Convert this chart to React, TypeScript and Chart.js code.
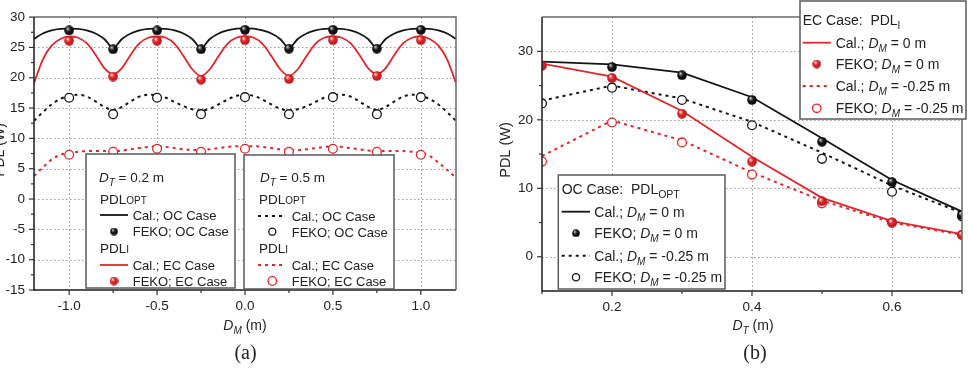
import React, { useEffect, useRef } from 'react';
import { Chart, registerables } from 'chart.js';

Chart.register(...registerables);

const SANS = '"Liberation Sans", Arial, Helvetica, sans-serif';
const SERIF = '"Liberation Serif", "Times New Roman", serif';
const RED = '#e3262b';
const BLACK = '#141414';
const TEXT = '#222222';

// ---------- Panel (a): PDL versus receiver offset D_M ----------
const dmSamples = [
  -1.2, -1.15, -1.1, -1.05, -1.0, -0.95, -0.9, -0.85, -0.8, -0.75,
  -0.7, -0.65, -0.6, -0.55, -0.5, -0.45, -0.4, -0.35, -0.3, -0.25,
  -0.2, -0.15, -0.1, -0.05, 0, 0.05, 0.1, 0.15, 0.2, 0.25,
  0.3, 0.35, 0.4, 0.45, 0.5, 0.55, 0.6, 0.65, 0.7, 0.75,
  0.8, 0.85, 0.9, 0.95, 1.0, 1.05, 1.1, 1.15, 1.2,
];
// Cal., OC case, D_T = 0.2 m
const calOcDt02 = [
  26.4, 27.3, 27.8, 28.05, 28.1, 28.05, 27.8, 27.3, 26.4, 24.9,
  26.4, 27.3, 27.8, 28.05, 28.1, 28.05, 27.8, 27.3, 26.4, 24.9,
  26.4, 27.3, 27.8, 28.1, 28.15, 28.1, 27.8, 27.3, 26.4, 24.9,
  26.4, 27.3, 27.8, 28.05, 28.1, 28.05, 27.8, 27.3, 26.4, 24.9,
  26.4, 27.3, 27.8, 28.05, 28.1, 28.05, 27.8, 27.3, 26.4,
];
// Cal., EC case, D_T = 0.2 m
const calEcDt02 = [
  19.1, 23.0, 25.3, 26.4, 26.8, 26.6, 25.7, 23.8, 21.6, 20.6,
  21.6, 23.8, 25.7, 26.6, 26.8, 26.6, 25.6, 23.6, 21.4, 20.3,
  21.4, 23.6, 25.6, 26.6, 26.8, 26.6, 25.6, 23.6, 21.4, 20.3,
  21.4, 23.6, 25.6, 26.6, 26.8, 26.6, 25.7, 23.8, 21.6, 20.6,
  21.6, 23.8, 25.7, 26.6, 26.8, 26.4, 25.3, 23.0, 19.1,
];
// Cal., OC case, D_T = 0.5 m
const calOcDt05 = [
  12.9, 14.3, 15.6, 16.5, 17.0, 17.2, 16.9, 16.1, 15.2, 14.7,
  15.2, 16.1, 16.9, 17.2, 17.1, 16.7, 16.0, 15.3, 14.8, 14.6,
  14.9, 15.6, 16.4, 17.0, 17.2, 17.0, 16.4, 15.6, 14.9, 14.6,
  14.8, 15.3, 16.0, 16.7, 17.1, 17.2, 16.9, 16.1, 15.2, 14.7,
  15.2, 16.1, 16.9, 17.2, 17.0, 16.5, 15.6, 14.3, 12.9,
];
// Cal., EC case, D_T = 0.5 m
const calEcDt05 = [
  3.8, 5.2, 6.5, 7.3, 7.6, 7.8, 7.9, 7.9, 7.9, 7.9,
  8.0, 8.2, 8.4, 8.6, 8.7, 8.6, 8.4, 8.2, 8.1, 8.1,
  8.2, 8.4, 8.6, 8.7, 8.7, 8.7, 8.6, 8.4, 8.2, 8.1,
  8.1, 8.2, 8.4, 8.6, 8.7, 8.6, 8.4, 8.2, 8.0, 7.9,
  7.9, 7.9, 7.9, 7.8, 7.6, 7.1, 6.0, 4.8, 3.5,
];
const dmFeko = [-1, -0.75, -0.5, -0.25, 0, 0.25, 0.5, 0.75, 1];
const fekoOcDt02 = [27.8, 24.7, 27.8, 24.7, 27.9, 24.8, 27.9, 24.8, 27.9];
const fekoEcDt02 = [26.1, 20.2, 26.1, 19.7, 26.2, 19.8, 26.2, 20.3, 26.2];
const fekoOcDt05 = [16.7, 14.0, 16.7, 14.0, 16.8, 14.0, 16.8, 14.0, 16.8];
const fekoEcDt05 = [7.3, 7.8, 8.3, 7.8, 8.3, 7.8, 8.3, 7.8, 7.3];

const dmTicks = [-1, -0.5, 0, 0.5, 1];
const dmMinorTicks = [-0.75, -0.25, 0.25, 0.75];
const pdlTicksA = [-15, -10, -5, 0, 5, 10, 15, 20, 25, 30];
const pdlMinorA = [-12.5, -7.5, -2.5, 2.5, 7.5, 12.5, 17.5, 22.5, 27.5];

// ---------- Panel (b): PDL versus transmitter spacing D_T ----------
const dtSamples = [0.1, 0.2, 0.3, 0.4, 0.5, 0.6, 0.7];
const calOcDm0 = [28.5, 28.1, 26.9, 23.3, 17.3, 11.2, 6.6];
const calOcDm025 = [22.8, 25.0, 23.1, 19.7, 15.2, 10.4, 6.4];
const calEcDm0 = [28.2, 26.3, 21.3, 14.6, 8.6, 5.2, 3.3];
const calEcDm025 = [14.7, 19.9, 17.0, 12.3, 8.2, 5.0, 3.2];
const dtFekoOc0 = [0.2, 0.3, 0.4, 0.5, 0.6, 0.7];
const fekoOcDm0 = [27.7, 26.5, 22.9, 16.8, 10.9, 6.1];
const fekoOcDm025 = [22.4, 24.7, 22.9, 19.2, 14.3, 9.5, 5.9];
const fekoEcDm0 = [27.9, 26.1, 20.9, 13.9, 8.1, 5.0, 3.2];
const fekoEcDm025 = [13.9, 19.6, 16.7, 12.0, 7.8, 5.0, 3.2];

const dtTicks = [0.2, 0.4, 0.6];
const dtMinorTicks = [0.1, 0.3, 0.5, 0.7];
const pdlTicksB = [0, 10, 20, 30];
const pdlMinorB = [5, 15, 25];

type Seg = { t: string; italic?: boolean; size?: number; dy?: number };

const zip = (xs: number[], ys: number[]) => xs.map((x, i) => ({ x, y: ys[i] }));

function richWidth(ctx: CanvasRenderingContext2D, segs: Seg[], base: number) {
  let w = 0;
  for (const s of segs) {
    ctx.font = `${s.italic ? 'italic ' : ''}${s.size ?? base}px ${SANS}`;
    w += ctx.measureText(s.t).width;
  }
  return w;
}

function rich(ctx: CanvasRenderingContext2D, segs: Seg[], x: number, y: number, base: number) {
  ctx.save();
  ctx.fillStyle = TEXT;
  ctx.textAlign = 'left';
  ctx.textBaseline = 'alphabetic';
  let cx = x;
  for (const s of segs) {
    ctx.font = `${s.italic ? 'italic ' : ''}${s.size ?? base}px ${SANS}`;
    ctx.fillText(s.t, cx, y + (s.dy ?? 0));
    cx += ctx.measureText(s.t).width;
  }
  ctx.restore();
}

function richCentered(ctx: CanvasRenderingContext2D, segs: Seg[], cx: number, y: number, base: number) {
  rich(ctx, segs, cx - richWidth(ctx, segs, base) / 2, y, base);
}

function makeSphere(body: string, edge: string, glow: string, d: number) {
  const c = document.createElement('canvas');
  c.width = d;
  c.height = d;
  const g = c.getContext('2d')!;
  const r = d / 2;
  const grad = g.createRadialGradient(r - r * 0.35, r - r * 0.4, r * 0.08, r, r, r);
  grad.addColorStop(0, glow);
  grad.addColorStop(0.4, body);
  grad.addColorStop(1, edge);
  g.fillStyle = grad;
  g.beginPath();
  g.arc(r, r, r - 0.2, 0, Math.PI * 2);
  g.fill();
  return c;
}

function legendBox(ctx: CanvasRenderingContext2D, x0: number, y0: number, x1: number, y1: number) {
  ctx.save();
  ctx.fillStyle = '#ffffff';
  ctx.fillRect(x0, y0, x1 - x0, y1 - y0);
  ctx.strokeStyle = '#5a5a5a';
  ctx.lineWidth = 1.5;
  ctx.strokeRect(x0, y0, x1 - x0, y1 - y0);
  ctx.restore();
}

function sampleLine(ctx: CanvasRenderingContext2D, x0: number, x1: number, y: number, color: string, dotted: boolean) {
  ctx.save();
  ctx.strokeStyle = color;
  ctx.lineWidth = dotted ? 2 : 1.8;
  ctx.setLineDash(dotted ? [3, 4] : []);
  ctx.beginPath();
  ctx.moveTo(x0, y);
  ctx.lineTo(x1, y);
  ctx.stroke();
  ctx.restore();
}

function ring(ctx: CanvasRenderingContext2D, x: number, y: number, r: number, color: string) {
  ctx.save();
  ctx.fillStyle = '#fff';
  ctx.strokeStyle = color;
  ctx.lineWidth = 1.3;
  ctx.beginPath();
  ctx.arc(x, y, r, 0, Math.PI * 2);
  ctx.fill();
  ctx.stroke();
  ctx.restore();
}

function ball(ctx: CanvasRenderingContext2D, img: HTMLCanvasElement, x: number, y: number, d: number) {
  ctx.drawImage(img, x - d / 2, y - d / 2, d, d);
}

type Frame = {
  xMajor: number[];
  xMinor: number[];
  yMajor: number[];
  yMinor: number[];
  extras: (ctx: CanvasRenderingContext2D, chart: Chart) => void;
};

function framePlugin(f: Frame) {
  return {
    id: 'frame',
    beforeDatasetsDraw(chart: Chart) {
      const { ctx, chartArea: a, scales } = chart;
      ctx.save();
      ctx.strokeStyle = '#9c9c9c';
      ctx.lineWidth = 1;
      ctx.setLineDash([1.5, 2.5]);
      for (const v of f.xMajor) {
        const px = Math.round(scales.x.getPixelForValue(v)) + 0.5;
        if (px <= a.left + 1 || px >= a.right - 1) continue;
        ctx.beginPath();
        ctx.moveTo(px, a.top);
        ctx.lineTo(px, a.bottom);
        ctx.stroke();
      }
      for (const v of f.yMajor) {
        const py = Math.round(scales.y.getPixelForValue(v)) + 0.5;
        if (py <= a.top + 1 || py >= a.bottom - 1) continue;
        ctx.beginPath();
        ctx.moveTo(a.left, py);
        ctx.lineTo(a.right, py);
        ctx.stroke();
      }
      ctx.restore();
    },
    afterDatasetsDraw(chart: Chart) {
      const { ctx, chartArea: a, scales } = chart;
      ctx.save();
      // top and right border
      ctx.strokeStyle = '#6a6a6a';
      ctx.lineWidth = 1.5;
      ctx.beginPath();
      ctx.moveTo(a.left, a.top);
      ctx.lineTo(a.right, a.top);
      ctx.lineTo(a.right, a.bottom);
      ctx.stroke();
      // bottom axis
      ctx.strokeStyle = '#555';
      ctx.lineWidth = 2;
      ctx.beginPath();
      ctx.moveTo(a.left, a.bottom);
      ctx.lineTo(a.right, a.bottom);
      ctx.stroke();
      // left axis
      ctx.strokeStyle = '#1a1a1a';
      ctx.lineWidth = 1.5;
      ctx.beginPath();
      ctx.moveTo(a.left, a.top);
      ctx.lineTo(a.left, a.bottom + 1);
      ctx.stroke();
      // tick marks
      ctx.strokeStyle = '#333';
      ctx.lineWidth = 1.2;
      const xt = (vals: number[], len: number) => {
        for (const v of vals) {
          const px = scales.x.getPixelForValue(v);
          if (px < a.left - 0.5 || px > a.right + 0.5) continue;
          ctx.beginPath();
          ctx.moveTo(px, a.bottom);
          ctx.lineTo(px, a.bottom + len);
          ctx.stroke();
        }
      };
      const yt = (vals: number[], len: number) => {
        for (const v of vals) {
          const py = scales.y.getPixelForValue(v);
          if (py < a.top - 0.5 || py > a.bottom + 0.5) continue;
          ctx.beginPath();
          ctx.moveTo(a.left, py);
          ctx.lineTo(a.left - len, py);
          ctx.stroke();
        }
      };
      xt(f.xMajor, 5);
      xt(f.xMinor, 3);
      yt(f.yMajor, 5);
      yt(f.yMinor, 3);
      ctx.restore();
      f.extras(ctx, chart);
    },
  };
}

const tickFont = { family: SANS, size: 13.5 };

function buildPanelA(canvas: HTMLCanvasElement) {
  const blackBall = makeSphere('#1e1e1e', '#000', '#c8c8c8', 10);
  const redBall = makeSphere('#e5282c', '#b01616', '#ffe0e0', 10);
  const blackBallSm = makeSphere('#1e1e1e', '#000', '#c8c8c8', 8);
  const redBallSm = makeSphere('#e5282c', '#b01616', '#ffe0e0', 9);

  const extras = (ctx: CanvasRenderingContext2D) => {
    // axis titles and panel tag
    richCentered(ctx, [{ t: 'D', italic: true }, { t: 'M', italic: true, size: 10, dy: 4 }, { t: ' (m)' }], 245, 330, 14);
    ctx.save();
    ctx.fillStyle = TEXT;
    ctx.font = `20px ${SERIF}`;
    ctx.textAlign = 'center';
    ctx.fillText('(a)', 245.5, 359);
    ctx.translate(-1, 150);
    ctx.rotate(-Math.PI / 2);
    ctx.font = `14px ${SANS}`;
    ctx.fillText('PDL (W)', 0, 5);
    ctx.restore();

    // legend: D_T = 0.2 m
    legendBox(ctx, 86, 154, 235, 288);
    rich(ctx, [{ t: 'D', italic: true }, { t: 'T', italic: true, size: 10, dy: 4 }, { t: ' = 0.2 m' }], 99, 182, 13.5);
    rich(ctx, [{ t: 'PDL' }, { t: 'OPT', size: 10 }], 100, 203.5, 13.5);
    sampleLine(ctx, 100, 128, 215, BLACK, false);
    rich(ctx, [{ t: 'Cal.; OC Case' }], 132.7, 219.5, 13);
    ball(ctx, blackBallSm, 114, 231.5, 8);
    rich(ctx, [{ t: 'FEKO; OC Case' }], 132.7, 236, 13);
    rich(ctx, [{ t: 'PDL' }, { t: 'I', size: 10 }], 100, 252.5, 13.5);
    sampleLine(ctx, 100, 128, 265, RED, false);
    rich(ctx, [{ t: 'Cal.; EC Case' }], 132.7, 269.5, 13);
    ball(ctx, redBallSm, 114, 281, 9);
    rich(ctx, [{ t: 'FEKO; EC Case' }], 132.7, 285.5, 13);

    // legend: D_T = 0.5 m
    legendBox(ctx, 244, 155, 394, 289);
    rich(ctx, [{ t: 'D', italic: true }, { t: 'T', italic: true, size: 10, dy: 4 }, { t: ' = 0.5 m' }], 260, 181.7, 13.5);
    rich(ctx, [{ t: 'PDL' }, { t: 'OPT', size: 10 }], 259, 204, 13.5);
    sampleLine(ctx, 258, 285, 216, BLACK, true);
    rich(ctx, [{ t: 'Cal.; OC Case' }], 291.7, 220.5, 13);
    ring(ctx, 272.3, 231.7, 3.5, BLACK);
    rich(ctx, [{ t: 'FEKO; OC Case' }], 291.7, 236.5, 13);
    rich(ctx, [{ t: 'PDL' }, { t: 'I', size: 10 }], 259, 253, 13.5);
    sampleLine(ctx, 258, 285, 265, RED, true);
    rich(ctx, [{ t: 'Cal.; EC Case' }], 291.7, 269.5, 13);
    ring(ctx, 272.3, 281, 4.3, RED);
    rich(ctx, [{ t: 'FEKO; EC Case' }], 291.7, 285.5, 13);
  };

  const lineDs = (data: number[], color: string, dotted: boolean) => ({
    data: zip(dmSamples, data),
    borderColor: color,
    borderWidth: dotted ? 2 : 1.8,
    borderDash: dotted ? [3, 4] : [],
    pointRadius: 0,
    cubicInterpolationMode: 'monotone' as const,
    fill: false,
    order: 2,
  });
  const ballDs = (data: number[], img: HTMLCanvasElement) => ({
    data: zip(dmFeko, data),
    showLine: false,
    pointStyle: img,
    pointRadius: 5,
    order: 0,
  });
  const ringDs = (data: number[], color: string) => ({
    data: zip(dmFeko, data),
    showLine: false,
    pointStyle: 'circle',
    pointRadius: 4.4,
    pointBorderWidth: 1.3,
    pointBorderColor: color,
    pointBackgroundColor: '#ffffff',
    order: 1,
  });

  return new Chart(canvas, {
    type: 'line',
    data: {
      datasets: [
        ballDs(fekoOcDt02, blackBall),
        ballDs(fekoEcDt02, redBall),
        ringDs(fekoOcDt05, BLACK),
        ringDs(fekoEcDt05, RED),
        lineDs(calOcDt02, BLACK, false),
        lineDs(calEcDt02, RED, false),
        lineDs(calOcDt05, BLACK, true),
        lineDs(calEcDt05, RED, true),
      ] as any,
    },
    options: {
      responsive: false,
      animation: false,
      events: [],
      layout: { padding: { top: 10, right: 28, left: 0, bottom: 0 } },
      plugins: { legend: { display: false }, tooltip: { enabled: false } },
      scales: {
        x: {
          type: 'linear',
          min: -1.2,
          max: 1.2,
          afterBuildTicks: (s: any) => { s.ticks = dmTicks.map((v) => ({ value: v })); },
          afterFit: (s: any) => { s.height = 78; },
          grid: { display: false, drawTicks: false },
          border: { display: false },
          ticks: { padding: 8, color: TEXT, font: tickFont, autoSkip: false, maxRotation: 0, callback: (v: any) => Number(v).toFixed(1) },
        },
        y: {
          type: 'linear',
          min: -15,
          max: 30,
          afterBuildTicks: (s: any) => { s.ticks = pdlTicksA.map((v) => ({ value: v })); },
          afterFit: (s: any) => { s.width = 34; },
          grid: { display: false, drawTicks: false },
          border: { display: false },
          ticks: { padding: 9, color: TEXT, font: tickFont, autoSkip: false, callback: (v: any) => String(v) },
        },
      },
    } as any,
    plugins: [framePlugin({ xMajor: dmTicks, xMinor: dmMinorTicks, yMajor: pdlTicksA, yMinor: pdlMinorA, extras })],
  });
}

function buildPanelB(canvas: HTMLCanvasElement) {
  const blackBall = makeSphere('#1e1e1e', '#000', '#c8c8c8', 10);
  const redBall = makeSphere('#e5282c', '#b01616', '#ffe0e0', 10);
  const blackBallSm = makeSphere('#1e1e1e', '#000', '#c8c8c8', 8);
  const redBallSm = makeSphere('#e5282c', '#b01616', '#ffe0e0', 9);

  const dm = (val: string): Seg[] => [
    { t: 'D', italic: true },
    { t: 'M', italic: true, size: 10, dy: 4 },
    { t: ` = ${val} m` },
  ];

  const extras = (ctx: CanvasRenderingContext2D) => {
    richCentered(ctx, [{ t: 'D', italic: true }, { t: 'T', italic: true, size: 10, dy: 4 }, { t: ' (m)' }], 269, 330, 14);
    ctx.save();
    ctx.fillStyle = TEXT;
    ctx.font = `20px ${SERIF}`;
    ctx.textAlign = 'center';
    ctx.fillText('(b)', 271, 359);
    ctx.translate(21, 150);
    ctx.rotate(-Math.PI / 2);
    ctx.font = `14.5px ${SANS}`;
    ctx.fillText('PDL (W)', 0, 5);
    ctx.restore();

    // legend: EC case
    legendBox(ctx, 316, 1, 482, 119);
    rich(ctx, [{ t: 'EC Case:  PDL' }, { t: 'I', size: 10, dy: 4 }], 318.7, 25, 14);
    sampleLine(ctx, 318.7, 346.7, 42.7, RED, false);
    rich(ctx, [{ t: 'Cal.; ' }, ...dm('0')], 351.7, 47.5, 14);
    ball(ctx, redBallSm, 332.7, 64, 9);
    rich(ctx, [{ t: 'FEKO; ' }, ...dm('0')], 351.7, 69, 14);
    sampleLine(ctx, 318.7, 346.7, 86, RED, true);
    rich(ctx, [{ t: 'Cal.; ' }, ...dm('-0.25')], 351.7, 91, 14);
    ring(ctx, 332.7, 108.3, 4.2, RED);
    rich(ctx, [{ t: 'FEKO; ' }, ...dm('-0.25')], 351.7, 113, 14);

    // legend: OC case
    legendBox(ctx, 74.3, 175, 241, 289);
    rich(ctx, [{ t: 'OC Case:  PDL' }, { t: 'OPT', size: 10.5, dy: 4 }], 77.7, 194.3, 14);
    sampleLine(ctx, 77.7, 106, 211.7, BLACK, false);
    rich(ctx, [{ t: 'Cal.; ' }, ...dm('0')], 110.3, 216.5, 14);
    ball(ctx, blackBallSm, 92, 233.3, 8);
    rich(ctx, [{ t: 'FEKO; ' }, ...dm('0')], 110.3, 238, 14);
    sampleLine(ctx, 77.7, 106, 255.7, BLACK, true);
    rich(ctx, [{ t: 'Cal.; ' }, ...dm('-0.25')], 110.3, 260.5, 14);
    ring(ctx, 92, 277.3, 3.6, BLACK);
    rich(ctx, [{ t: 'FEKO; ' }, ...dm('-0.25')], 110.3, 282, 14);
  };

  const lineDs = (data: number[], color: string, dotted: boolean) => ({
    data: zip(dtSamples, data),
    borderColor: color,
    borderWidth: dotted ? 2 : 1.8,
    borderDash: dotted ? [3, 4] : [],
    pointRadius: 0,
    tension: 0,
    fill: false,
    order: 2,
  });
  const ballDs = (xs: number[], data: number[], img: HTMLCanvasElement) => ({
    data: zip(xs, data),
    showLine: false,
    pointStyle: img,
    pointRadius: 5,
    order: 0,
  });
  const ringDs = (data: number[], color: string) => ({
    data: zip(dtSamples, data),
    showLine: false,
    pointStyle: 'circle',
    pointRadius: 4.4,
    pointBorderWidth: 1.3,
    pointBorderColor: color,
    pointBackgroundColor: '#ffffff',
    order: 1,
  });

  return new Chart(canvas, {
    type: 'line',
    data: {
      datasets: [
        ballDs(dtFekoOc0, fekoOcDm0, blackBall),
        ballDs(dtSamples, fekoEcDm0, redBall),
        ringDs(fekoOcDm025, BLACK),
        ringDs(fekoEcDm025, RED),
        lineDs(calOcDm0, BLACK, false),
        lineDs(calEcDm0, RED, false),
        lineDs(calOcDm025, BLACK, true),
        lineDs(calEcDm025, RED, true),
      ] as any,
    },
    options: {
      responsive: false,
      animation: false,
      events: [],
      layout: { padding: { top: 10, right: 5, left: 0, bottom: 0 } },
      plugins: { legend: { display: false }, tooltip: { enabled: false } },
      scales: {
        x: {
          type: 'linear',
          min: 0.1,
          max: 0.7,
          afterBuildTicks: (s: any) => { s.ticks = dtTicks.map((v) => ({ value: v })); },
          afterFit: (s: any) => { s.height = 77; },
          grid: { display: false, drawTicks: false },
          border: { display: false },
          ticks: { padding: 8, color: TEXT, font: tickFont, autoSkip: false, maxRotation: 0, callback: (v: any) => Number(v).toFixed(1) },
        },
        y: {
          type: 'linear',
          min: -5,
          max: 35,
          afterBuildTicks: (s: any) => { s.ticks = pdlTicksB.map((v) => ({ value: v })); },
          afterFit: (s: any) => { s.width = 58; },
          grid: { display: false, drawTicks: false },
          border: { display: false },
          ticks: { padding: 9, color: TEXT, font: tickFont, autoSkip: false, callback: (v: any) => String(v) },
        },
      },
    } as any,
    plugins: [framePlugin({ xMajor: dtTicks, xMinor: dtMinorTicks, yMajor: pdlTicksB, yMinor: pdlMinorB, extras })],
  });
}

function Panel({ build, left }: { build: (c: HTMLCanvasElement) => Chart; left: number }) {
  const ref = useRef<HTMLCanvasElement>(null);
  useEffect(() => {
    const chart = build(ref.current!);
    return () => chart.destroy();
  }, [build]);
  return (
    <canvas
      ref={ref}
      width={484}
      height={368}
      style={{ position: 'absolute', left, top: 0, width: 484, height: 368 }}
    />
  );
}

export default function App() {
  return (
    <div style={{ position: 'fixed', left: 0, top: 0, width: 968, height: 368, background: '#ffffff', overflow: 'hidden' }}>
      <Panel build={buildPanelA} left={0} />
      <Panel build={buildPanelB} left={484} />
    </div>
  );
}
